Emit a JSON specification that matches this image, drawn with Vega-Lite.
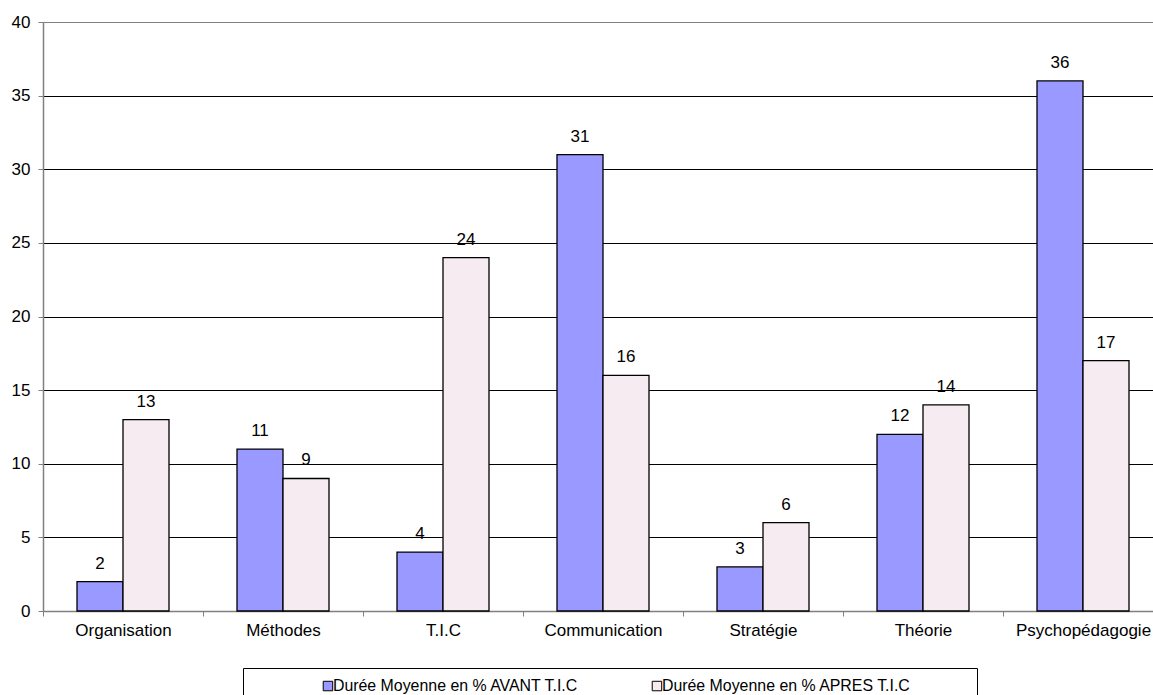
{
  "$schema": "https://vega.github.io/schema/vega-lite/v6.json",
  "width": 1110,
  "height": 589,
  "autosize": "none",
  "padding": {"left": 43, "top": 22, "right": 0, "bottom": 84},
  "background": "white",
  "config": {"view": {"stroke": null}, "font": "Liberation Sans"},
  "data": {
    "values": [
      {"cat": "Organisation", "serie": "Durée Moyenne en % AVANT T.I.C", "v": 2},
      {"cat": "Organisation", "serie": "Durée Moyenne en % APRES T.I.C", "v": 13},
      {"cat": "Méthodes", "serie": "Durée Moyenne en % AVANT T.I.C", "v": 11},
      {"cat": "Méthodes", "serie": "Durée Moyenne en % APRES T.I.C", "v": 9},
      {"cat": "T.I.C", "serie": "Durée Moyenne en % AVANT T.I.C", "v": 4},
      {"cat": "T.I.C", "serie": "Durée Moyenne en % APRES T.I.C", "v": 24},
      {"cat": "Communication", "serie": "Durée Moyenne en % AVANT T.I.C", "v": 31},
      {"cat": "Communication", "serie": "Durée Moyenne en % APRES T.I.C", "v": 16},
      {"cat": "Stratégie", "serie": "Durée Moyenne en % AVANT T.I.C", "v": 3},
      {"cat": "Stratégie", "serie": "Durée Moyenne en % APRES T.I.C", "v": 6},
      {"cat": "Théorie", "serie": "Durée Moyenne en % AVANT T.I.C", "v": 12},
      {"cat": "Théorie", "serie": "Durée Moyenne en % APRES T.I.C", "v": 14},
      {"cat": "Psychopédagogie", "serie": "Durée Moyenne en % AVANT T.I.C", "v": 36},
      {"cat": "Psychopédagogie", "serie": "Durée Moyenne en % APRES T.I.C", "v": 17}
    ]
  },
  "encoding": {
    "x": {
      "field": "cat", "type": "nominal", "sort": null,
      "scale": {"range": [0, 1120], "paddingInner": 0, "paddingOuter": 0},
      "axis": {
        "title": null, "labelAngle": 0, "labelFontSize": 17, "labelColor": "black",
        "labelPadding": 6, "tickBand": "extent", "tickSize": 5, "tickColor": "#808080",
        "domainColor": "#808080", "domainWidth": 1.5, "grid": false
      }
    },
    "xOffset": {
      "field": "serie", "type": "nominal",
      "sort": ["Durée Moyenne en % AVANT T.I.C", "Durée Moyenne en % APRES T.I.C"],
      "scale": {"paddingOuter": 0.739, "paddingInner": 0}
    },
    "y": {
      "field": "v", "type": "quantitative",
      "scale": {"domain": [0, 40], "nice": false},
      "axis": {
        "title": null, "values": [0, 5, 10, 15, 20, 25, 30, 35, 40],
        "labelFontSize": 17, "labelColor": "black", "labelPadding": 8,
        "tickSize": 5, "tickColor": "#808080", "domainColor": "#808080", "domainWidth": 1.5,
        "grid": true, "gridWidth": 1,
        "gridColor": {"condition": {"test": "datum.value === 40 || datum.value === 0", "value": "#808080"}, "value": "black"}
      }
    }
  },
  "layer": [
    {
      "mark": {"type": "bar", "stroke": "black", "strokeWidth": 1.3},
      "encoding": {
        "color": {
          "field": "serie", "type": "nominal",
          "scale": {
            "domain": ["Durée Moyenne en % AVANT T.I.C", "Durée Moyenne en % APRES T.I.C"],
            "range": ["#9999FF", "#f6ebf1"]
          },
          "legend": {
            "orient": "none", "legendX": 200, "legendY": 646, "direction": "horizontal",
            "title": "xxxx", "titleColor": "white",
            "titleOrient": "right", "titlePadding": 22, "titleFontSize": 15,
            "labelFontSize": 15.9, "labelColor": "black", "labelLimit": 500,
            "symbolType": "square", "symbolSize": 90, "symbolStrokeColor": "black", "symbolStrokeWidth": 1,
            "symbolOffset": 67, "labelOffset": -3,
            "columnPadding": 3, "padding": 10,
            "strokeColor": "black"
          }
        }
      }
    },
    {
      "mark": {"type": "text", "fontSize": 17, "color": "black", "baseline": "alphabetic", "dy": -13},
      "encoding": {"text": {"field": "v", "type": "quantitative"}}
    }
  ]
}
